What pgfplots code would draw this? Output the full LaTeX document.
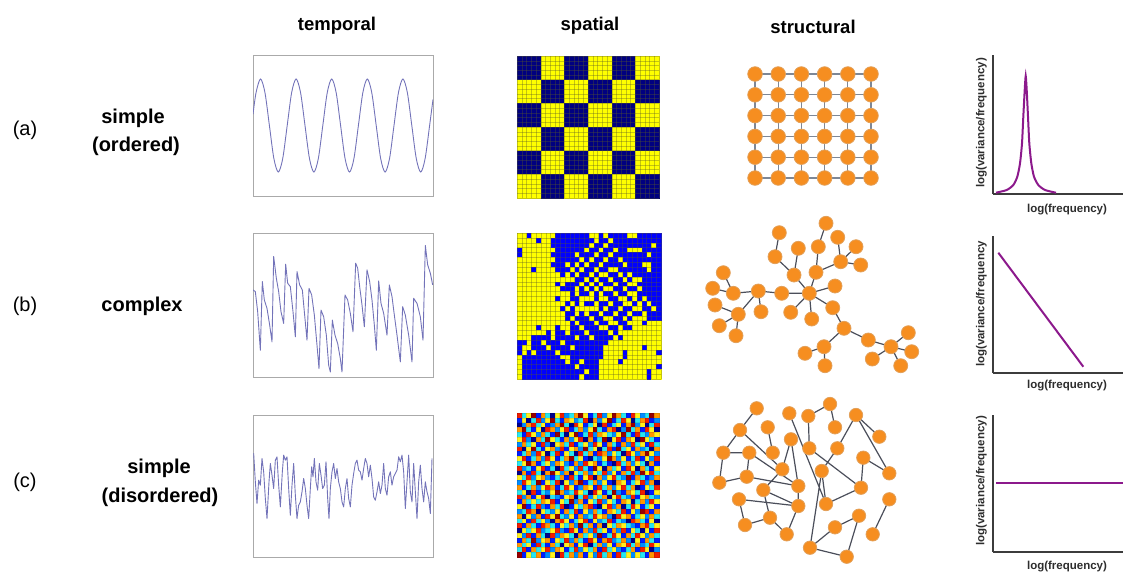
\documentclass[border=0pt]{standalone}
\usepackage{pgfplots}
\pgfplotsset{compat=1.18}
\usepackage{pgfplotstable}
\usepackage{fontspec}
\setmainfont{Liberation Sans}

\definecolor{nodeor}{RGB}{246,142,32}
\definecolor{nodeedge}{RGB}{226,160,90}
\definecolor{edgegray}{RGB}{75,78,90}
\definecolor{gridedge}{RGB}{125,135,150}
\definecolor{tsline}{RGB}{115,115,185}
\definecolor{framegray}{RGB}{170,170,170}
\definecolor{specpurple}{RGB}{140,25,140}
\definecolor{axgray}{RGB}{60,60,60}
\definecolor{labgray}{RGB}{45,45,45}
\definecolor{cellline}{RGB}{90,90,40}

% checkerboard, 6x6 blocks of 5x5 cells (0 = navy, 1 = yellow)
\pgfplotstableread[header=false]{
0 1 0 1 0 1
1 0 1 0 1 0
0 1 0 1 0 1
1 0 1 0 1 0
0 1 0 1 0 1
1 0 1 0 1 0
}\gridA

% complex pattern, 30x30 cells (0 = blue, 1 = yellow)
\pgfplotstableread[header=false]{
1 1 0 1 1 1 1 1 0 0 0 0 0 0 0 1 1 0 1 0 0 0 0 1 1 0 0 0 0 0
1 1 1 1 0 1 1 0 0 0 0 0 0 0 0 0 1 0 0 1 0 0 0 0 0 0 0 0 0 0
1 1 1 1 1 1 1 0 0 0 0 0 0 0 0 1 0 0 1 0 0 0 0 0 0 0 0 0 1 0
0 1 1 1 1 1 1 1 0 0 0 0 0 0 1 0 0 1 0 0 1 0 0 1 1 1 0 0 0 0
0 1 1 1 1 1 1 0 0 0 0 0 1 0 0 0 1 0 0 1 0 0 0 0 0 0 0 1 0 0
1 1 1 1 1 1 1 1 0 0 0 0 0 1 0 1 0 0 1 0 0 1 0 0 0 0 0 0 0 0
1 1 1 1 1 1 1 0 0 0 1 0 1 0 1 0 0 1 0 0 0 0 1 0 0 0 1 1 0 0
1 1 1 0 1 1 1 1 0 0 0 1 0 1 0 0 1 0 0 1 1 0 0 0 0 0 0 1 0 0
1 1 1 1 1 1 1 1 1 0 1 0 1 0 0 1 0 1 1 0 0 1 0 1 0 0 0 0 0 0
1 1 1 1 1 1 1 1 1 1 1 1 0 0 1 0 1 0 0 1 0 0 1 0 1 1 0 0 0 0
1 1 1 1 1 1 1 1 0 1 0 0 0 1 0 1 0 1 0 0 1 0 0 1 1 0 0 0 0 0
1 1 1 1 1 1 1 1 1 0 0 0 1 0 1 0 1 0 1 1 0 0 1 0 0 1 0 0 0 0
1 1 1 1 1 1 1 1 1 1 1 0 1 0 0 1 0 1 0 0 1 0 0 1 1 0 0 0 0 0
1 1 1 1 1 1 1 1 0 1 1 0 0 1 1 1 0 1 1 0 0 1 1 0 1 0 1 0 0 0
1 1 1 1 1 1 1 1 1 1 0 1 0 1 0 0 1 0 0 1 0 0 1 1 0 1 0 1 0 0
1 1 1 1 1 1 1 1 1 0 1 0 1 1 1 1 1 0 1 0 0 1 0 0 1 1 0 0 1 0
1 1 1 1 1 1 1 1 1 1 0 0 1 0 1 0 0 1 0 0 1 0 0 1 0 0 1 0 0 0
1 1 1 1 1 1 1 1 1 1 0 1 0 0 0 1 0 0 1 1 0 0 1 0 1 1 1 0 0 0
1 1 1 1 1 1 1 1 1 1 1 0 1 0 0 0 1 0 0 1 1 0 0 1 1 1 0 1 1 1
1 1 1 1 0 1 1 1 0 1 1 0 0 1 0 0 0 1 1 0 0 1 0 0 1 1 1 1 1 1
1 1 1 1 1 1 0 1 0 0 1 0 0 0 1 0 0 0 0 1 0 1 1 1 1 1 1 1 1 1
1 1 1 0 0 0 0 1 0 0 0 0 1 0 0 1 0 0 0 0 1 0 1 1 1 1 1 1 1 1
0 0 1 0 0 1 0 0 0 1 0 0 0 0 0 0 0 0 0 1 1 1 1 1 1 1 1 1 1 1
0 1 1 0 0 0 1 0 0 0 0 1 0 0 0 0 0 0 1 1 1 1 1 1 1 1 0 1 1 1
0 1 0 1 0 0 0 0 1 0 0 0 0 0 0 0 0 0 1 1 1 1 0 1 1 1 1 1 1 0
1 0 0 0 0 0 0 0 0 1 1 0 0 0 0 0 0 0 1 1 1 1 0 1 1 1 1 1 1 1
1 0 0 0 0 0 0 0 0 0 1 0 0 1 0 0 0 1 1 1 1 0 1 1 1 1 1 1 1 1
1 0 0 0 0 0 0 0 0 0 0 0 1 0 0 0 0 1 1 1 1 1 1 1 1 1 1 1 1 0
1 0 0 0 0 0 0 0 0 0 0 0 0 0 1 0 0 1 1 1 1 1 1 1 1 1 1 0 1 1
1 0 0 0 0 0 0 0 0 0 0 0 0 1 0 0 0 1 1 1 1 1 1 1 1 1 1 0 1 1
}\gridB

% disordered pattern, 30x30 cells, colour classes 0..8
\pgfplotstableread[header=false]{
7 3 5 8 1 6 3 0 5 7 2 3 6 8 5 1 3 7 2 5 8 6 3 1 7 5 2 3 8 6
1 5 0 3 7 2 5 8 3 1 6 5 2 3 7 0 6 2 5 8 1 3 7 5 0 3 6 7 1 2
0 2 6 7 3 5 1 2 6 8 3 0 7 5 1 3 5 0 7 1 3 5 1 6 8 2 5 0 3 7
6 8 3 1 5 0 7 6 2 5 7 1 3 6 2 5 8 3 1 6 7 0 2 8 3 6 1 7 5 0
3 1 7 5 2 6 3 1 8 3 0 5 8 1 3 7 2 6 5 3 2 5 8 3 1 7 3 2 6 5
5 7 2 0 6 3 8 5 3 1 6 2 5 7 0 6 1 3 8 0 5 7 1 6 5 0 8 5 3 1
2 6 3 5 1 7 2 0 5 6 3 7 1 3 5 2 7 5 1 6 3 1 6 2 7 3 5 1 7 3
7 0 5 8 3 1 5 6 2 7 1 5 6 2 8 3 5 0 3 7 1 8 3 5 1 6 2 3 0 6
1 3 6 2 7 5 0 3 7 1 5 3 0 7 3 6 1 7 6 2 5 3 0 7 5 2 6 8 5 2
5 7 1 3 6 2 7 5 1 3 6 8 3 5 1 0 3 2 5 8 6 2 5 1 3 7 1 5 2 7
3 5 8 6 1 3 5 2 6 5 2 1 6 2 7 5 6 1 3 1 0 7 3 6 2 5 3 0 6 1
7 2 3 1 5 7 1 3 0 7 3 5 2 7 3 1 8 5 0 6 3 5 1 7 5 0 6 3 1 5
0 6 1 7 3 0 6 8 5 2 6 0 5 3 6 2 5 3 7 2 5 1 6 3 7 2 8 5 7 3
5 3 7 2 5 6 2 1 3 6 1 7 3 1 5 7 0 6 2 5 7 3 2 8 1 6 3 1 2 6
2 7 5 3 8 1 5 3 7 0 5 2 6 8 1 3 6 2 5 1 0 6 5 1 3 5 7 2 6 0
6 1 3 6 2 5 7 6 1 3 7 5 1 2 6 5 1 7 3 6 2 5 7 3 6 0 1 5 3 7
3 5 0 7 1 3 2 5 8 6 2 3 7 5 3 0 7 5 1 3 8 2 1 6 5 3 7 0 1 5
7 2 6 1 5 7 0 3 2 1 5 6 0 3 7 2 5 3 6 0 5 7 3 2 7 1 5 6 3 2
1 6 3 5 3 6 5 7 1 5 3 8 2 6 1 5 3 7 2 5 3 1 6 5 0 3 6 2 7 5
5 8 1 3 7 2 1 6 3 7 0 1 5 3 6 7 1 0 5 7 2 6 0 3 7 5 1 3 5 1
2 3 7 6 0 5 3 2 5 1 6 3 7 1 5 2 6 3 1 6 5 3 7 1 5 2 8 7 1 6
6 0 5 2 6 1 7 5 8 3 2 5 1 6 2 3 7 5 6 2 0 7 5 6 1 3 5 2 6 3
3 5 1 7 3 5 2 0 6 7 5 1 3 5 7 1 5 2 3 7 1 3 2 0 7 6 3 1 5 0
7 1 6 3 1 7 6 3 1 5 3 6 2 8 3 6 1 6 0 5 3 6 5 3 2 1 6 7 3 5
0 5 3 5 7 2 3 5 7 2 1 7 5 1 6 2 7 3 5 1 6 2 7 1 5 3 0 5 1 7
5 2 7 1 6 3 0 7 2 6 5 3 0 6 3 5 2 8 1 3 7 5 1 6 3 7 5 2 6 3
1 6 3 8 2 5 6 1 5 3 7 2 6 3 1 7 5 1 6 7 2 3 6 2 0 5 1 6 3 1
6 3 5 1 7 3 1 6 3 0 5 6 1 5 7 0 3 6 2 5 1 6 5 7 3 6 2 3 7 5
3 7 1 6 3 5 7 2 6 5 1 3 7 2 5 3 6 1 7 3 5 2 1 3 6 1 7 5 0 2
8 1 5 3 6 1 2 5 0 7 3 6 2 6 1 5 2 7 3 6 1 7 3 5 2 5 3 1 6 7
}\gridC

\pgfplotsset{
  tempax/.style={scale only axis, anchor=north west, width=180pt, ticks=none,
    axis line style={draw=framegray, line width=0.9pt}},
  gridax/.style={scale only axis, anchor=north west, xmin=0, xmax=30, ymin=-30, ymax=0,
    xtick={0,...,30}, ytick={-30,...,0}, xticklabels={}, yticklabels={},
    major tick length=0pt, xmajorgrids, ymajorgrids, axis on top,
    axis line style={draw=none}, clip=false, clip marker paths=true},
  netax/.style={scale only axis, anchor=north west, hide axis, clip=false},
  specax/.style={scale only axis, anchor=north west, width=130pt, xmin=993, xmax=1123,
    axis x line=bottom, axis y line=left, axis line style={-, draw=axgray, line width=1.4pt},
    ticks=none, clip=false},
  cell/.style={scatter, only marks, mark=square*, point meta=explicit, line width=0.1pt,
    scatter/use mapped color={draw=mapped color, fill=mapped color}},
  edges/.style={edgegray, line width=1.2pt, unbounded coords=jump},
  nodes/.style={only marks, mark=*, mark options={fill=nodeor, draw=nodeedge, line width=0.8pt}},
}

\begin{document}
\begin{tikzpicture}
\path[use as bounding box] (0pt,0pt) rectangle (1123pt,-574pt);

% column titles
\begin{scope}[font=\fontsize{18.5}{22}\selectfont\bfseries]
\node at (337pt,-26pt) {temporal};
\node at (590pt,-26pt) {spatial};
\node at (813pt,-27pt) {structural};
\end{scope}

% row labels
\begin{scope}[font=\fontsize{20}{24}\selectfont]
\node at (25pt,-130pt) {(a)};
\node at (25pt,-306pt) {(b)};
\node at (25pt,-482pt) {(c)};
\node[font=\fontsize{20}{24}\selectfont\bfseries] at (133pt,-118pt) {simple};
\node[font=\fontsize{20}{24}\selectfont\bfseries] at (136pt,-146pt) {(ordered)};
\node[font=\fontsize{20}{24}\selectfont\bfseries] at (142pt,-306pt) {complex};
\node[font=\fontsize{20}{24}\selectfont\bfseries] at (159pt,-468pt) {simple};
\node[font=\fontsize{20}{24}\selectfont\bfseries] at (160pt,-497pt) {(disordered)};
\end{scope}

% ---------- temporal ----------
\begin{axis}[tempax, at={(253pt,-55pt)}, height=141pt, xmin=0, xmax=180, ymin=-1, ymax=1]
\addplot[tsline, line width=0.9pt, smooth] coordinates {
(0,0.16) (3.05,0.467) (7.5,0.66) (11.95,0.467) (16.4,0) (20.85,-0.467) (25.3,-0.66)
(29.75,-0.467) (34.2,0) (38.65,0.467) (43.1,0.66) (47.55,0.467) (52,0) (56.45,-0.467)
(60.9,-0.66) (65.35,-0.467) (69.8,0) (74.25,0.467) (78.7,0.66) (83.15,0.467) (87.6,0)
(92.05,-0.467) (96.5,-0.66) (100.95,-0.467) (105.4,0) (109.85,0.467) (114.3,0.66)
(118.75,0.467) (123.2,0) (127.65,-0.467) (132.1,-0.66) (136.55,-0.467) (141,0)
(145.45,0.467) (149.9,0.66) (154.35,0.467) (158.8,0) (163.25,-0.467) (167.7,-0.66)
(172.15,-0.467) (176.6,0) (180,0.37)
};
\end{axis}

\begin{axis}[tempax, at={(253pt,-233pt)}, height=144pt, xmin=38, xmax=578, ymin=-455, ymax=-25]
\addplot[tsline, line width=0.9pt, line join=round] coordinates {
(38,-195) (45,-200) (52,-260) (60,-375) (66,-170) (72,-225) (80,-250) (88,-300) (95,-350)
(100,-95) (108,-160) (115,-200) (122,-260) (130,-295) (136,-118) (142,-175) (150,-185)
(158,-260) (165,-335) (170,-140) (178,-180) (186,-195) (192,-260) (200,-345) (206,-190)
(214,-210) (222,-270) (230,-360) (236,-430) (242,-255) (250,-275) (258,-330) (265,-420)
(270,-440) (276,-285) (284,-330) (292,-355) (300,-400) (305,-440) (314,-210) (322,-225)
(330,-265) (338,-320) (346,-115) (352,-130) (358,-185) (365,-240) (372,-305) (380,-135)
(388,-170) (395,-225) (402,-300) (408,-375) (415,-168) (422,-235) (430,-265) (440,-330)
(447,-180) (455,-215) (462,-270) (470,-330) (480,-410) (487,-245) (495,-270) (505,-330)
(515,-410) (520,-220) (530,-235) (540,-275) (548,-345) (555,-62) (562,-120) (570,-145)
(577,-180)
};
\end{axis}

\begin{axis}[tempax, at={(253pt,-415pt)}, height=142pt, xmin=38, xmax=578, ymin=-455, ymax=-30]
\addplot[tsline, line width=0.9pt, line join=round] coordinates {
(40,-145) (45,-230) (50,-295) (55,-225) (60,-240) (65,-160) (70,-200) (75,-280) (80,-340)
(86,-230) (90,-175) (95,-210) (100,-250) (105,-165) (110,-155) (115,-240) (120,-305)
(126,-200) (130,-150) (135,-165) (140,-155) (145,-250) (150,-330) (155,-240) (160,-175)
(165,-270) (170,-340) (175,-300) (180,-290) (185,-260) (190,-220) (195,-250) (200,-300)
(205,-340) (210,-250) (214,-185) (218,-215) (222,-160) (227,-230) (232,-255) (237,-175)
(242,-210) (247,-250) (252,-240) (257,-170) (262,-280) (266,-340) (270,-250) (275,-200)
(280,-175) (285,-220) (290,-190) (295,-230) (300,-250) (305,-290) (310,-305) (315,-250)
(320,-220) (325,-280) (330,-305) (335,-240) (340,-205) (345,-175) (350,-165) (355,-195)
(360,-200) (365,-225) (370,-190) (375,-160) (380,-175) (385,-215) (390,-180) (395,-220)
(400,-275) (405,-285) (410,-260) (415,-230) (420,-265) (425,-240) (430,-175) (435,-250)
(440,-270) (445,-215) (450,-200) (455,-240) (460,-215) (465,-205) (470,-195) (475,-155)
(480,-170) (485,-150) (490,-200) (495,-310) (500,-230) (505,-150) (510,-260) (515,-290)
(520,-175) (525,-260) (530,-340) (535,-230) (540,-180) (545,-250) (550,-290) (555,-230)
(560,-260) (565,-280) (570,-325) (575,-160)
};
\end{axis}

% ---------- spatial ----------
\begin{axis}[gridax, at={(517pt,-56pt)}, width=142pt, height=142pt,
  colormap={ny}{rgb255=(0,0,128) rgb255=(255,255,0)}, point meta min=0, point meta max=1,
  major grid style={draw=cellline, opacity=0.35, line width=0.35pt}]
\pgfplotsinvokeforeach{0,...,5}{
  \addplot[cell, mark size=11.85pt] table[x expr={5*#1+2.5}, y expr={-5*\coordindex-2.5}, meta index=#1] {\gridA};
}
\end{axis}

\begin{axis}[gridax, at={(517pt,-233pt)}, width=144pt, height=146pt,
  colormap={by}{rgb255=(0,0,255) rgb255=(255,255,0)}, point meta min=0, point meta max=1,
  major grid style={draw=cellline, opacity=0.35, line width=0.35pt}]
\pgfplotsinvokeforeach{0,...,29}{
  \addplot[cell, mark size=2.45pt] table[x expr={#1+0.5}, y expr={-\coordindex-0.5}, meta index=#1] {\gridB};
}
\end{axis}

\begin{axis}[gridax, at={(517pt,-413pt)}, width=142pt, height=144pt,
  colormap={cj}{rgb255=(0,0,140) rgb255=(0,30,255) rgb255=(0,140,255) rgb255=(40,230,240)
    rgb255=(160,255,120) rgb255=(255,240,30) rgb255=(255,150,0) rgb255=(240,30,0) rgb255=(150,0,0)},
  point meta min=0, point meta max=8,
  major grid style={draw=black, opacity=0.1, line width=0.3pt}]
\pgfplotsinvokeforeach{0,...,29}{
  \addplot[cell, mark size=2.42pt] table[x expr={#1+0.5}, y expr={-\coordindex-0.5}, meta index=#1] {\gridC};
}
\end{axis}

% ---------- structural ----------
\begin{axis}[netax, at={(700pt,-50pt)}, width=230pt, height=150pt, xmin=700, xmax=930, ymin=-200, ymax=-50]
\addplot[edges, draw=gridedge] coordinates {
(755,-74) (871,-74) (nan,nan) (755,-94.8) (871,-94.8) (nan,nan)
(755,-115.6) (871,-115.6) (nan,nan) (755,-136.4) (871,-136.4) (nan,nan)
(755,-157.2) (871,-157.2) (nan,nan) (755,-178) (871,-178) (nan,nan)
(755,-74) (755,-178) (nan,nan) (778.2,-74) (778.2,-178) (nan,nan)
(801.4,-74) (801.4,-178) (nan,nan) (824.6,-74) (824.6,-178) (nan,nan)
(847.8,-74) (847.8,-178) (nan,nan) (871,-74) (871,-178)
};
\addplot[nodes, mark size=7.3pt] coordinates {
(755,-74) (778.2,-74) (801.4,-74) (824.6,-74) (847.8,-74) (871,-74)
(755,-94.8) (778.2,-94.8) (801.4,-94.8) (824.6,-94.8) (847.8,-94.8) (871,-94.8)
(755,-115.6) (778.2,-115.6) (801.4,-115.6) (824.6,-115.6) (847.8,-115.6) (871,-115.6)
(755,-136.4) (778.2,-136.4) (801.4,-136.4) (824.6,-136.4) (847.8,-136.4) (871,-136.4)
(755,-157.2) (778.2,-157.2) (801.4,-157.2) (824.6,-157.2) (847.8,-157.2) (871,-157.2)
(755,-178) (778.2,-178) (801.4,-178) (824.6,-178) (847.8,-178) (871,-178)
};
\end{axis}

\begin{axis}[netax, at={(690pt,-205pt)}, width=240pt, height=180pt, xmin=690, xmax=930, ymin=-385, ymax=-205]
\addplot[edges] coordinates {
(779.3,-232.7) (775.0,-256.7) (794.0,-275.0) (809.3,-293.3) (nan,nan)
(798.3,-248.3) (794.0,-275.0) (nan,nan)
(826.0,-223.3) (818.3,-246.7) (816.0,-272.3) (809.3,-293.3) (nan,nan)
(837.7,-237.3) (840.7,-261.7) (nan,nan)
(856.0,-246.7) (840.7,-261.7) (nan,nan)
(860.7,-265.0) (840.7,-261.7) (816.0,-272.3) (nan,nan)
(809.3,-293.3) (835.0,-286.0) (nan,nan)
(809.3,-293.3) (781.7,-293.3) (758.3,-291.0) (733.3,-293.3) (723.3,-272.7) (nan,nan)
(733.3,-293.3) (712.7,-288.3) (nan,nan)
(809.3,-293.3) (790.7,-312.3) (nan,nan)
(809.3,-293.3) (811.7,-319.0) (nan,nan)
(809.3,-293.3) (832.7,-307.7) (844.0,-328.3) (868.3,-340.0) (891.0,-346.7) (nan,nan)
(758.3,-291.0) (738.3,-314.3) (715.0,-305.0) (nan,nan)
(738.3,-314.3) (719.3,-325.7) (nan,nan)
(738.3,-314.3) (736.0,-335.7) (nan,nan)
(758.3,-291.0) (761.0,-311.7) (nan,nan)
(844.0,-328.3) (824.0,-346.7) (805.0,-353.3) (nan,nan)
(824.0,-346.7) (825.0,-365.7) (nan,nan)
(891.0,-346.7) (908.3,-332.7) (nan,nan)
(891.0,-346.7) (911.7,-351.7) (nan,nan)
(891.0,-346.7) (872.3,-359.0) (nan,nan)
(891.0,-346.7) (900.7,-365.7)
};
\addplot[nodes, mark size=7pt] coordinates {
(779.3,-232.7) (775.0,-256.7) (798.3,-248.3) (794.0,-275.0) (826.0,-223.3) (818.3,-246.7)
(816.0,-272.3) (837.7,-237.3) (856.0,-246.7) (840.7,-261.7) (860.7,-265.0) (809.3,-293.3)
(835.0,-286.0) (781.7,-293.3) (758.3,-291.0) (733.3,-293.3) (723.3,-272.7) (712.7,-288.3)
(715.0,-305.0) (738.3,-314.3) (719.3,-325.7) (736.0,-335.7) (761.0,-311.7) (790.7,-312.3)
(811.7,-319.0) (832.7,-307.7) (844.0,-328.3) (868.3,-340.0) (824.0,-346.7) (805.0,-353.3)
(825.0,-365.7) (891.0,-346.7) (908.3,-332.7) (911.7,-351.7) (872.3,-359.0) (900.7,-365.7)
};
\end{axis}

\begin{axis}[netax, at={(690pt,-390pt)}, width=240pt, height=180pt, xmin=690, xmax=930, ymin=-570, ymax=-390]
\addplot[edges] coordinates {
(756.7,-408.3) (740.0,-430.0) (723.3,-452.7) (749.3,-452.7) (nan,nan)
(723.3,-452.7) (719.3,-482.7) (746.7,-476.7) (749.3,-452.7) (nan,nan)
(740.0,-430.0) (782.3,-469.3) (nan,nan)
(767.7,-427.3) (772.7,-452.7) (nan,nan)
(791.0,-439.3) (782.3,-469.3) (nan,nan)
(789.3,-413.3) (826.0,-504.0) (nan,nan)
(791.0,-439.3) (798.3,-486.0) (nan,nan)
(749.3,-452.7) (798.3,-486.0) (nan,nan)
(746.7,-476.7) (798.3,-486.0) (nan,nan)
(782.3,-469.3) (763.3,-490.0) (770.0,-517.7) (nan,nan)
(763.3,-490.0) (798.3,-506.0) (nan,nan)
(739.0,-499.3) (798.3,-506.0) (nan,nan)
(739.0,-499.3) (745.0,-525.0) (770.0,-517.7) (786.7,-534.3) (798.3,-506.0) (798.3,-486.0) (nan,nan)
(808.3,-416.0) (830.0,-404.0) (835.0,-427.3) (nan,nan)
(808.3,-416.0) (809.3,-448.3) (861.0,-487.7) (nan,nan)
(837.3,-448.3) (821.7,-471.0) (nan,nan)
(837.3,-448.3) (856.0,-415.0) (879.3,-436.7) (nan,nan)
(856.0,-415.0) (889.3,-473.3) (863.3,-457.7) (861.0,-487.7) (826.0,-504.0) (821.7,-471.0) (810.0,-547.7) (nan,nan)
(810.0,-547.7) (835.0,-527.3) (859.0,-515.7) (846.7,-556.7) (810.0,-547.7) (nan,nan)
(889.3,-499.3) (872.7,-534.3)
};
\addplot[nodes, mark size=6.7pt] coordinates {
(756.7,-408.3) (740.0,-430.0) (723.3,-452.7) (749.3,-452.7) (719.3,-482.7) (746.7,-476.7)
(767.7,-427.3) (772.7,-452.7) (789.3,-413.3) (791.0,-439.3) (808.3,-416.0) (830.0,-404.0)
(835.0,-427.3) (809.3,-448.3) (837.3,-448.3) (856.0,-415.0) (879.3,-436.7) (863.3,-457.7)
(889.3,-473.3) (782.3,-469.3) (821.7,-471.0) (798.3,-486.0) (763.3,-490.0) (739.0,-499.3)
(798.3,-506.0) (826.0,-504.0) (861.0,-487.7) (889.3,-499.3) (770.0,-517.7) (745.0,-525.0)
(786.7,-534.3) (835.0,-527.3) (859.0,-515.7) (872.7,-534.3) (810.0,-547.7) (846.7,-556.7)
};
\end{axis}

% ---------- spectra ----------
\begin{axis}[specax, at={(993pt,-55pt)}, height=139pt, ymin=-194, ymax=-55]
\addplot[specpurple, line width=2pt, smooth, tension=0.4] coordinates {
(996,-192.7) (1006.7,-190) (1013.3,-185) (1017.3,-176.7) (1020,-163.3) (1022,-143.3)
(1023.3,-116.7) (1024.7,-90) (1025.7,-76) (1026.7,-90) (1028,-116.7) (1029.3,-143.3)
(1031.3,-163.3) (1034,-176.7) (1038.3,-185) (1045,-190) (1056,-192.7)
};
\end{axis}

\begin{axis}[specax, at={(993pt,-236pt)}, height=137pt, ymin=-373, ymax=-236]
\addplot[specpurple, line width=2pt] coordinates {(998.3,-252.7) (1083.3,-366.7)};
\end{axis}

\begin{axis}[specax, at={(993pt,-415pt)}, height=137pt, ymin=-552, ymax=-415]
\addplot[specpurple, line width=2pt] coordinates {(996,-482.7) (1123,-482.7)};
\end{axis}

\begin{scope}[font=\fontsize{11.5}{13}\selectfont\bfseries, text=labgray]
\node at (1067pt,-209.5pt) {log(frequency)};
\node at (1067pt,-386pt) {log(frequency)};
\node at (1067pt,-567pt) {log(frequency)};
\node[rotate=90] at (981.5pt,-123pt) {log(variance/frequency)};
\node[rotate=90] at (981.5pt,-304pt) {log(variance/frequency};
\node[rotate=90] at (981.5pt,-481pt) {log(variance/frequency)};
\end{scope}
\end{tikzpicture}
\end{document}
